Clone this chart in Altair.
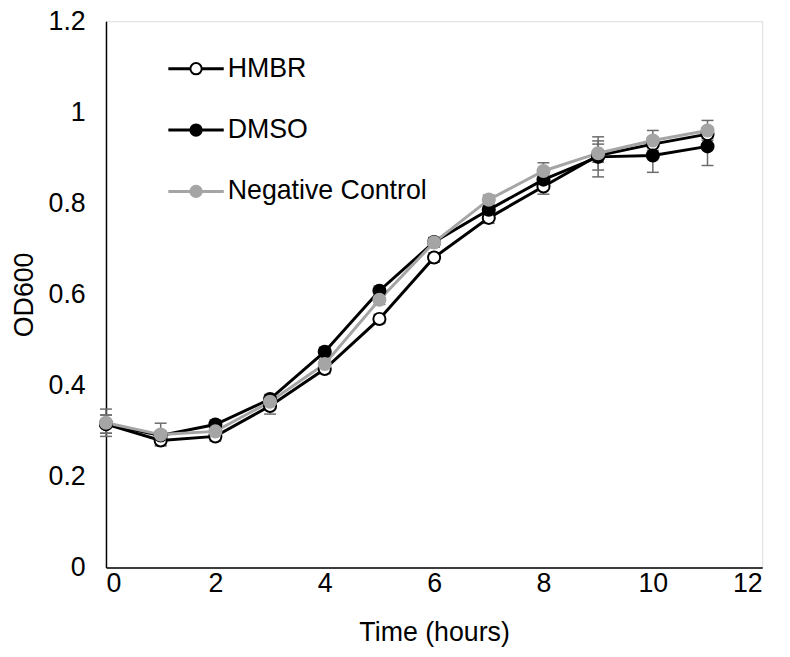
import altair as alt
import pandas as pd

time_h = [0, 1, 2, 3, 4, 5, 6, 7, 8, 9, 10, 11]
series_names = ["HMBR", "DMSO", "Negative Control"]

hmbr = [0.315, 0.279, 0.288, 0.355, 0.436, 0.546, 0.681, 0.768, 0.837, 0.905, 0.930, 0.952]
dmso = [0.315, 0.290, 0.314, 0.370, 0.474, 0.608, 0.715, 0.786, 0.852, 0.902, 0.905, 0.925]
neg_ctrl = [0.318, 0.292, 0.299, 0.364, 0.447, 0.588, 0.714, 0.808, 0.871, 0.910, 0.938, 0.960]

hmbr_err = [0.020, 0.010, 0.010, 0.018, 0.010, 0.010, 0.010, 0.012, 0.017, 0.032, 0.015, 0.010]
dmso_err = [0.020, 0.010, 0.010, 0.010, 0.010, 0.010, 0.010, 0.010, 0.012, 0.044, 0.037, 0.042]
neg_err = [0.030, 0.025, 0.010, 0.010, 0.010, 0.010, 0.010, 0.010, 0.018, 0.020, 0.022, 0.022]

rows = []
for name, vals, errs in zip(series_names, [hmbr, dmso, neg_ctrl], [hmbr_err, dmso_err, neg_err]):
    for t, v, e in zip(time_h, vals, errs):
        rows.append({"series": name, "time": t, "od": v, "lo": v - e, "hi": v + e})
df = pd.DataFrame(rows)
legend_df = pd.DataFrame({"series": series_names})

FONT = "Liberation Sans"
FS = 27
ERR_COLOR = "#6b6b6b"
stroke_range = ["#000000", "#000000", "#a5a5a5"]
fill_range = ["#ffffff", "#000000", "#a5a5a5"]
stroke_scale = alt.Scale(domain=series_names, range=stroke_range)
fill_scale = alt.Scale(domain=series_names, range=fill_range)

x_enc = alt.X("time:Q", title="Time (hours)",
              scale=alt.Scale(domain=[0, 12], nice=False),
              axis=alt.Axis(values=[0, 2, 4, 6, 8, 10, 12], grid=False, ticks=False, format="~g",
                            domainColor="#000000", domainWidth=1.5,
                            labelFont=FONT, labelFontSize=FS, labelColor="#000000",
                            labelPadding=3, titleFont=FONT, titleFontSize=FS,
                            titleFontWeight="normal", titleColor="#000000", titlePadding=24))
y_axis = alt.Axis(values=[0, 0.2, 0.4, 0.6, 0.8, 1.0, 1.2], grid=False, ticks=False, format="~g",
                  domainColor="#000000", domainWidth=1.5,
                  labelFont=FONT, labelFontSize=FS, labelColor="#000000", labelPadding=21,
                  titleFont=FONT, titleFontSize=FS, titleFontWeight="normal",
                  titleColor="#000000", titlePadding=10)
y_scale = alt.Scale(domain=[0, 1.2], nice=False)

base = alt.Chart(df)

err_stem = base.mark_rule(color=ERR_COLOR, strokeWidth=1.5).encode(
    x=alt.X("time:Q"), y=alt.Y("lo:Q"), y2="hi:Q")
cap_hi = base.mark_rule(color=ERR_COLOR, strokeWidth=1.5, xOffset=-6, x2Offset=6).encode(
    x=alt.X("time:Q"), x2="time:Q", y=alt.Y("hi:Q"))
cap_lo = base.mark_rule(color=ERR_COLOR, strokeWidth=1.5, xOffset=-6, x2Offset=6).encode(
    x=alt.X("time:Q"), x2="time:Q", y=alt.Y("lo:Q"))

lines = base.mark_line(strokeWidth=3).encode(
    x=x_enc,
    y=alt.Y("od:Q", title="OD600", scale=y_scale, axis=y_axis),
    color=alt.Color("series:N", scale=stroke_scale, legend=None),
    order=alt.Order("time:Q"),
)

points = base.mark_circle(size=150, opacity=1, strokeWidth=2).encode(
    x="time:Q",
    y="od:Q",
    stroke=alt.Stroke("series:N", scale=stroke_scale, legend=None),
    fill=alt.Fill("series:N", scale=fill_scale, legend=None),
)

data_layers = alt.layer(err_stem, cap_hi, cap_lo, lines, points)

# manual legend (line + marker + label), positioned inside the plot area
leg_y = alt.Y("series:N",
              scale=alt.Scale(type="point", domain=series_names, range=[48, 172], padding=0),
              axis=None)
leg_base = alt.Chart(legend_df)
leg_line = leg_base.mark_rule(strokeWidth=3).encode(
    x=alt.value(63), x2=alt.value(119), y=leg_y,
    color=alt.Color("series:N", scale=stroke_scale, legend=None))
leg_pt = leg_base.mark_circle(size=130, opacity=1, strokeWidth=2).encode(
    x=alt.value(91), y=leg_y,
    stroke=alt.Stroke("series:N", scale=stroke_scale, legend=None),
    fill=alt.Fill("series:N", scale=fill_scale, legend=None))
leg_text = leg_base.mark_text(align="left", baseline="middle", font=FONT, fontSize=FS,
                              color="#000000").encode(
    x=alt.value(123), y=leg_y, text="series:N")
legend_layers = alt.layer(leg_line, leg_pt, leg_text)

chart = alt.layer(data_layers, legend_layers).resolve_scale(y="independent").properties(
    width=663, height=552,
    autosize=alt.AutoSizeParams(type="none"),
    padding={"left": 99, "top": 10, "right": 20, "bottom": 79},
).configure_view(stroke=None).configure(background="#ffffff")

chart.save("out.html", embed_options={"renderer": "svg", "actions": False})
